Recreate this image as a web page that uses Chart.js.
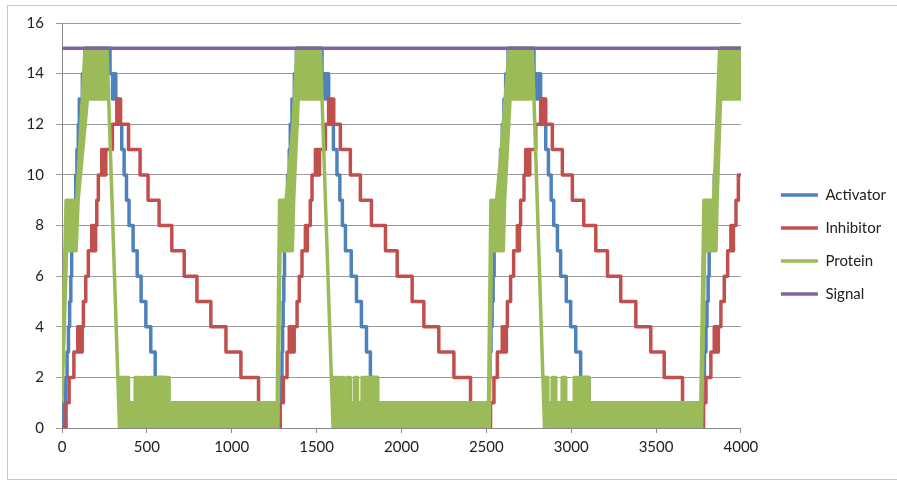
<html>

<head>
  <script src="https://cdn.jsdelivr.net/npm/chart.js@4"></script>
  <style>
    body { margin: 0; background: #fff; }
  </style>
</head>

<body>
  <div style="width:897px;height:483px"><canvas id="myChart"></canvas></div>
</body>

<script>
  // step change points: at x the value becomes y
  const actX = [0, 8, 22, 30, 38, 45, 52, 57, 63, 71, 81, 88, 96, 102, 120, 136,
    283, 298, 305, 317, 332, 352, 366, 380, 395, 419, 443, 466, 494, 523, 549, 600,
    1286, 1296, 1300, 1303, 1307, 1311, 1315, 1318, 1329, 1339, 1345, 1355, 1369, 1381,
    1532, 1548, 1555, 1571, 1581, 1599, 1620, 1637, 1652, 1670, 1704, 1735, 1764, 1794, 1817, 1859,
    2515, 2522, 2528, 2534, 2540, 2546, 2551, 2557, 2574, 2584, 2594, 2604, 2614, 2628,
    2781, 2796, 2803, 2820, 2832, 2850, 2866, 2882, 2897, 2919, 2938, 2971, 2997, 3027, 3056, 3105,
    3776, 3785, 3794, 3800, 3807, 3813, 3823, 3833, 3843, 3853, 3863, 3866, 3872, 3888, 4000];
  const actY = [0, 1, 2, 3, 4, 5, 6, 7, 8, 9, 10, 11, 12, 13, 14, 15,
    14, 13, 14, 13, 12, 11, 10, 9, 8, 7, 6, 5, 4, 3, 2, 1,
    2, 3, 4, 5, 6, 7, 8, 9, 10, 11, 12, 13, 14, 15,
    14, 13, 14, 13, 12, 11, 10, 9, 8, 7, 6, 5, 4, 3, 2, 1,
    2, 3, 4, 5, 6, 7, 8, 9, 10, 11, 12, 13, 14, 15,
    14, 13, 14, 13, 12, 11, 10, 9, 8, 7, 6, 5, 4, 3, 2, 1,
    2, 3, 4, 5, 6, 7, 8, 9, 10, 11, 12, 13, 14, 15, 15];

  const inhX = [0, 24, 42, 70, 93, 101, 107, 113, 119, 126, 140, 155, 175, 182, 188, 194, 198, 205, 214, 234, 240, 246, 252, 258,
    297, 323, 329, 335, 345, 392, 460, 507, 572, 647, 720, 795, 877, 966, 1054, 1158, 1276,
    1286, 1304, 1326, 1339, 1348, 1355, 1362, 1368, 1385, 1398, 1414, 1434, 1440, 1446, 1463, 1473, 1493, 1499, 1505, 1511, 1517,
    1552, 1571, 1577, 1583, 1601, 1640, 1699, 1758, 1823, 1906, 1975, 2063, 2132, 2220, 2309, 2407, 2518,
    2525, 2545, 2565, 2594, 2600, 2606, 2612, 2618, 2624, 2643, 2661, 2683, 2689, 2695, 2702, 2722, 2732, 2738, 2744, 2750, 2756,
    2791, 2820, 2826, 2832, 2850, 2889, 2948, 3007, 3074, 3145, 3214, 3292, 3381, 3469, 3548, 3656, 3764,
    3780, 3794, 3823, 3843, 3849, 3855, 3861, 3867, 3882, 3902, 3922, 3941, 3950, 3956, 3971, 3985, 4000];
  const inhY = [0, 1, 2, 3, 4, 3, 4, 3, 4, 5, 6, 7, 8, 7, 8, 7, 8, 9, 10, 11, 10, 11, 10, 11,
    12, 13, 12, 13, 12, 11, 10, 9, 8, 7, 6, 5, 4, 3, 2, 1, 0,
    1, 2, 3, 4, 3, 4, 3, 4, 5, 6, 7, 8, 7, 8, 9, 10, 11, 10, 11, 10, 11,
    12, 13, 12, 13, 12, 11, 10, 9, 8, 7, 6, 5, 4, 3, 2, 1, 0,
    1, 2, 3, 4, 3, 4, 3, 4, 5, 6, 7, 8, 7, 8, 9, 10, 11, 10, 11, 10, 11,
    12, 13, 12, 13, 12, 11, 10, 9, 8, 7, 6, 5, 4, 3, 2, 1, 0,
    1, 2, 3, 4, 3, 4, 3, 4, 5, 6, 7, 8, 7, 8, 9, 10, 10];

  // protein flickers fast, so it is kept as its upper and lower envelope
  const protTopX = [0, 24, 87, 136, 265, 329, 392, 392, 431, 431, 460, 460, 478, 478, 499, 499, 513, 513, 537, 537, 549, 549, 631, 631,
    1268, 1282, 1320, 1335, 1361, 1385, 1522, 1587, 1623, 1623, 1640, 1640, 1661, 1661, 1682, 1682, 1699, 1699, 1723, 1723, 1741, 1741, 1768, 1768, 1859, 1859,
    2513, 2527, 2560, 2575, 2600, 2634, 2771, 2833, 2862, 2862, 2888, 2888, 2909, 2909, 2947, 2947, 2968, 2968, 3018, 3018, 3105, 3105,
    3764, 3782, 3840, 3875, 4000];
  const protTopY = [2, 9, 9, 15, 15, 2, 2, 1, 1, 2, 2, 1, 1, 2, 2, 1, 1, 2, 2, 1, 1, 2, 2, 1,
    1, 9, 9, 10, 12, 15, 15, 2, 2, 1, 1, 2, 2, 1, 1, 2, 2, 1, 1, 2, 2, 1, 1, 2, 2, 1,
    1, 9, 9, 10, 12, 15, 15, 2, 2, 1, 1, 2, 2, 1, 1, 2, 2, 1, 1, 2, 2, 1,
    1, 9, 9, 15, 15];
  const protLowX = [0, 27, 83, 95, 150, 275, 339, 1272, 1284, 1357, 1365, 1392, 1532, 1597,
    2517, 2530, 2600, 2608, 2640, 2781, 2843, 3768, 3786, 3853, 3860, 3880, 4000];
  const protLowY = [1, 7, 7, 9, 13, 13, 0, 0, 7, 7, 9, 13, 13, 0,
    0, 7, 7, 9, 13, 13, 0, 0, 7, 7, 9, 13, 13];

  const sigX = [0, 4000];
  const sigY = [15, 15];

  const xTicks = [0, 500, 1000, 1500, 2000, 2500, 3000, 3500, 4000];
  const yTicks = [0, 2, 4, 6, 8, 10, 12, 14, 16];

  const pts = (xs, ys) => xs.map((x, i) => ({ x: x, y: ys[i] }));
  // closed outline: top edge left to right, then bottom edge back
  const protShape = pts(protTopX, protTopY).concat(pts(protLowX, protLowY).reverse());

  const frame = {
    id: 'frame',
    beforeDraw(chart) {
      const c = chart.ctx;
      c.save();
      c.fillStyle = '#fff';
      c.fillRect(0, 0, chart.width, chart.height);
      c.strokeStyle = '#c8c8c8';
      c.lineWidth = 1;
      c.strokeRect(7.5, 5.5, chart.width, chart.height - 9);
      c.restore();
    }
  };

  Chart.defaults.font.family = 'Lato';
  Chart.defaults.font.size = 15;
  Chart.defaults.color = '#222';

  const ctx = document.getElementById('myChart').getContext('2d');
  const chart = new Chart(ctx, {
    type: 'line',
    data: {
      datasets: [
        { label: 'Activator', data: pts(actX, actY), borderColor: '#4F81BD', borderWidth: 3.5, stepped: true, order: 4 },
        { label: 'Inhibitor', data: pts(inhX, inhY), borderColor: '#C0504D', borderWidth: 3.5, stepped: true, order: 3 },
        { label: 'Protein', data: protShape, borderColor: '#9BBB59', backgroundColor: '#9BBB59', borderWidth: 3.5, fill: 'shape', order: 2 },
        { label: 'Signal', data: pts(sigX, sigY), borderColor: '#8064A2', borderWidth: 3.5, order: 1 }
      ]
    },
    options: {
      animation: false,
      responsive: true,
      maintainAspectRatio: false,
      layout: { padding: { top: 23, right: 1, bottom: 17, left: 0 } },
      elements: {
        point: { radius: 0, hoverRadius: 0 },
        line: { tension: 0, borderJoinStyle: 'round', fill: false }
      },
      plugins: {
        tooltip: { enabled: false },
        legend: {
          position: 'right',
          labels: {
            usePointStyle: true,
            pointStyle: 'line',
            pointStyleWidth: 37,
            padding: 18,
            color: '#222',
            font: { size: 15 },
            sort: (a, b) => a.datasetIndex - b.datasetIndex
          }
        }
      },
      scales: {
        x: {
          type: 'linear',
          min: 0,
          max: 4000,
          afterBuildTicks: s => { s.ticks = xTicks.map(v => ({ value: v })); },
          grid: { drawOnChartArea: false, drawTicks: true, tickLength: 5, color: '#888' },
          border: { color: '#888' },
          ticks: { padding: 5, maxRotation: 0, callback: v => String(v) },
          afterFit: s => { s.height = 38; }
        },
        y: {
          min: 0,
          max: 16,
          afterBuildTicks: s => { s.ticks = yTicks.map(v => ({ value: v })); },
          grid: { color: '#9a9a9a', tickLength: 6 },
          border: { color: '#888' },
          ticks: { padding: 12 },
          afterFit: s => { s.width = 62; }
        },
        y2: {
          position: 'right',
          display: true,
          grid: { display: false },
          border: { display: false },
          ticks: { display: false },
          afterFit: s => { s.width = 22; }
        }
      }
    },
    plugins: [frame]
  });
</script>

</html>
